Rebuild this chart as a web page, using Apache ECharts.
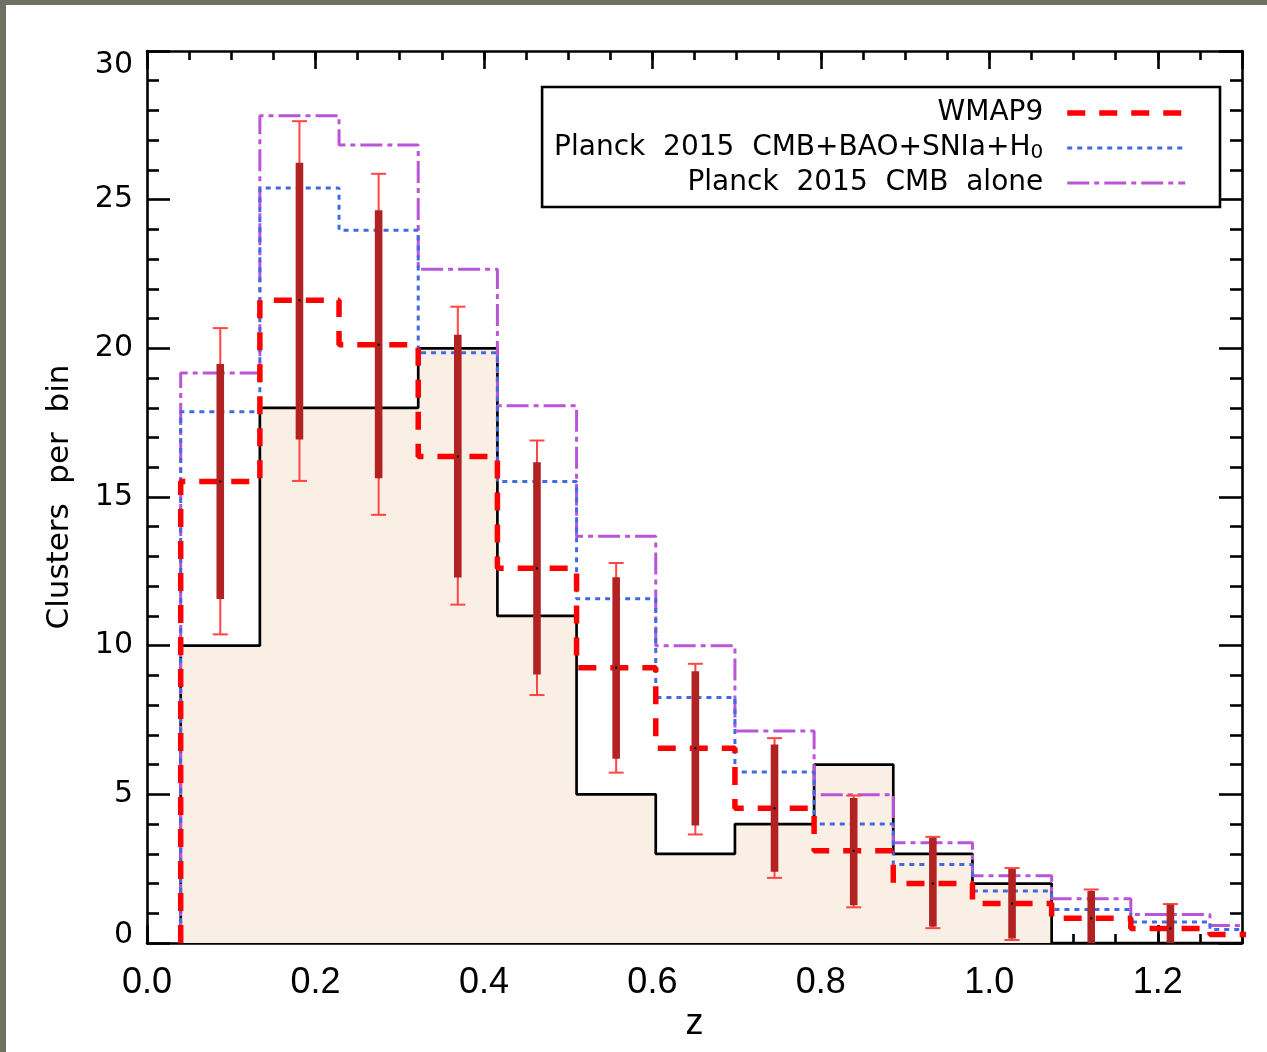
<!DOCTYPE html>
<html>
<head>
<meta charset="utf-8">
<title>Clusters per redshift bin</title>
<script src="https://cdn.jsdelivr.net/npm/echarts@6/dist/echarts.min.js"></script>
<style>
  html, body { margin: 0; padding: 0; background: #707163; }
  #frame { position: absolute; left: 0; top: 0; width: 1267px; height: 1052px; background: #707163; }
  #chart { position: absolute; left: 6px; top: 5px; width: 1261px; height: 1047px; background: #ffffff; }
</style>
</head>
<body>
<div id="frame"><div id="chart"></div></div>
<script>
// Redshift bin edges (last bin runs past the plotted range)
const binEdges = [0.040, 0.134, 0.228, 0.322, 0.416, 0.510, 0.604, 0.698, 0.792, 0.886, 0.980, 1.074, 1.168, 1.262, 1.356];

// Observed cluster counts per bin
const observed = [10, 18, 18, 20, 11, 5, 3, 4, 6, 3, 2, 0, 0, 0];

// Predicted counts per bin for each cosmology
const wmap9     = [15.52, 21.62, 20.12, 16.36, 12.60, 9.26, 6.55, 4.53, 3.10, 2.00, 1.33, 0.83, 0.49, 0.29];
const planckAll = [17.87, 25.39, 23.97, 19.85, 15.52, 11.58, 8.26, 5.75, 4.00, 2.64, 1.75, 1.13, 0.71, 0.45];
const planckCMB = [19.17, 27.82, 26.84, 22.66, 18.07, 13.68, 10.00, 7.13, 4.99, 3.37, 2.26, 1.49, 0.96, 0.59];

// Uncertainty on the WMAP9 prediction: Poisson range (thick) and total range (thin)
const poissonLow  = [11.57, 16.93, 15.63, 12.29, 9.03, 6.20, 3.95, 2.40, 1.27, 0.55, 0.15, -0.08, -0.21];
const poissonHigh = [19.47, 26.24, 24.64, 20.46, 16.17, 12.30, 9.14, 6.68, 4.88, 3.54, 2.49, 1.75, 1.29];
const totalLow    = [10.38, 15.54, 14.40, 11.38, 8.34, 5.73, 3.65, 2.19, 1.20, 0.50, 0.10, -0.15, -0.30];
const totalHigh   = [20.68, 27.64, 25.87, 21.40, 16.90, 12.78, 9.39, 6.89, 4.96, 3.57, 2.52, 1.80, 1.31];

// Axis tick labels
const xTickLabels = ['0.0', '0.2', '0.4', '0.6', '0.8', '1.0', '1.2'];
const yTickLabels = ['0', '5', '10', '15', '20', '25', '30'];

const seriesNames = ['WMAP9', 'Planck 2015 CMB+BAO+SNIa+H0', 'Planck 2015 CMB alone'];

// Histogram outline: rise from zero at the first edge, then one step per bin
function stepData(vals) {
  const pts = [[binEdges[0], 0]];
  vals.forEach(function (v, i) { pts.push([binEdges[i], v]); });
  pts.push([binEdges[vals.length], vals[vals.length - 1]]);
  return pts;
}

const errorData = poissonLow.map(function (_, i) {
  const centre = (binEdges[i] + binEdges[i + 1]) / 2;
  return [centre, wmap9[i], poissonLow[i], poissonHigh[i], totalLow[i], totalHigh[i]];
});

const black = '#000000';
const axisW = 2.6;
const fontY = 'DejaVu Sans';
const fontX = 'Liberation Sans';

function xAxisDef(position, interval, tickLen, withLine, withLabel) {
  return {
    type: 'value', position: position, min: 0, max: 1.3, interval: interval,
    axisLine: { show: withLine, onZero: false, lineStyle: { color: black, width: axisW } },
    axisTick: { show: true, inside: true, length: tickLen, lineStyle: { color: black, width: axisW } },
    axisLabel: withLabel ? {
      show: true, showMaxLabel: false, margin: 22,
      fontFamily: fontX, fontSize: 36, lineHeight: 36, color: black,
      formatter: function (v) {
        const idx = Math.round(v / 0.2);
        return (Math.abs(idx * 0.2 - v) < 1e-6 && xTickLabels[idx] !== undefined) ? xTickLabels[idx] : '';
      }
    } : { show: false },
    splitLine: { show: false },
    name: withLabel ? 'z' : '',
    nameLocation: 'middle', nameGap: 60,
    nameTextStyle: { fontFamily: fontX, fontSize: 36, lineHeight: 36, color: black }
  };
}

function yAxisDef(position, withLabel) {
  return {
    type: 'value', position: position, min: 0, max: 30, interval: 5,
    axisLine: { show: true, onZero: false, lineStyle: { color: black, width: axisW } },
    axisTick: { show: true, inside: true, length: 23, lineStyle: { color: black, width: axisW } },
    minorTick: { show: true, splitNumber: 5, length: 12, lineStyle: { color: black, width: axisW } },
    splitLine: { show: false },
    minorSplitLine: { show: false },
    axisLabel: withLabel ? {
      show: true, margin: 14, color: black, fontFamily: fontY, fontSize: 30,
      formatter: function (v) {
        const txt = yTickLabels[Math.round(v / 5)];
        if (v === 30) return '{t|' + txt + '}';
        if (v === 0) return '{b|' + txt + '}';
        return '{n|' + txt + '}';
      },
      rich: {
        n: { fontFamily: fontY, fontSize: 30, color: black },
        t: { fontFamily: fontY, fontSize: 30, color: black, padding: [28, 0, 0, 0] },
        b: { fontFamily: fontY, fontSize: 30, color: black, padding: [0, 0, 16, 0] }
      }
    } : { show: false },
    name: withLabel ? 'Clusters  per  bin' : '',
    nameLocation: 'middle', nameGap: 72,
    nameTextStyle: { fontFamily: fontY, fontSize: 31, color: black }
  };
}

const chart = echarts.init(document.getElementById('chart'), null, { renderer: 'canvas' });

chart.setOption({
  animation: false,
  backgroundColor: '#ffffff',
  grid: { left: 141, right: 25, top: 46, bottom: 109, outerBoundsMode: 'none', containLabel: false },
  xAxis: [
    xAxisDef('bottom', 0.2, 18, true, true),
    xAxisDef('bottom', 0.05, 9, false, false),
    xAxisDef('top', 0.2, 18, true, false),
    xAxisDef('top', 0.05, 9, false, false)
  ],
  yAxis: [
    yAxisDef('left', true),
    yAxisDef('right', false)
  ],
  legend: {
    data: seriesNames,
    orient: 'vertical',
    align: 'right',
    right: 47,
    top: 82,
    itemWidth: 118,
    itemHeight: 20,
    itemGap: 5,
    padding: [11, 32, 9, 12],
    borderColor: black,
    borderWidth: 2.6,
    borderRadius: 0,
    backgroundColor: '#ffffff',
    selectedMode: false,
    lineStyle: { width: 'inherit' },
    itemStyle: { opacity: 0, borderWidth: 0 },
    textStyle: {
      fontFamily: fontY, fontSize: 28, lineHeight: 30, color: black,
      padding: [0, 19, 0, 0],
      rich: {
        sub: { fontFamily: fontY, fontSize: 20, lineHeight: 16, padding: [10, 0, 0, 0], color: black }
      }
    },
    formatter: function (name) {
      if (name === seriesNames[1]) return 'Planck  2015  CMB+BAO+SNIa+H{sub|0}';
      return name.split(' ').join('  ');
    }
  },
  series: [
    {
      name: 'Observed',
      type: 'line', step: 'end', data: stepData(observed),
      symbol: 'none', showSymbol: false, silent: true, z: 1,
      color: black,
      lineStyle: { color: black, width: 2.7 },
      areaStyle: { color: '#faefe4', opacity: 1, origin: 'start' }
    },
    {
      name: seriesNames[2],
      type: 'line', step: 'end', data: stepData(planckCMB),
      symbol: 'none', showSymbol: false, silent: true, z: 2,
      color: '#bb55d8',
      lineStyle: { color: '#bb55d8', width: 3, type: [22, 5, 5, 5] }
    },
    {
      name: seriesNames[1],
      type: 'line', step: 'end', data: stepData(planckAll),
      symbol: 'none', showSymbol: false, silent: true, z: 3,
      color: '#4169e1',
      lineStyle: { color: '#4169e1', width: 3, type: [5, 5] }
    },
    {
      name: seriesNames[0],
      type: 'line', step: 'end', data: stepData(wmap9),
      symbol: 'none', showSymbol: false, silent: true, z: 4,
      color: '#ff0000',
      lineStyle: { color: '#ff0000', width: 5.5, type: [18, 14] }
    },
    {
      name: 'Uncertainty',
      type: 'custom', clip: true, silent: true, z: 5,
      data: errorData,
      renderItem: function (params, api) {
        const x = api.value(0);
        const c = api.coord([x, api.value(1)]);
        const pl = api.coord([x, api.value(2)]);
        const ph = api.coord([x, api.value(3)]);
        const tl = api.coord([x, api.value(4)]);
        const th = api.coord([x, api.value(5)]);
        const cap = 7.5;
        const thin = { stroke: '#ff4545', lineWidth: 2 };
        return {
          type: 'group',
          children: [
            { type: 'line', shape: { x1: c[0], y1: tl[1], x2: c[0], y2: th[1] }, style: thin },
            { type: 'line', shape: { x1: c[0] - cap, y1: th[1], x2: c[0] + cap, y2: th[1] }, style: thin },
            { type: 'line', shape: { x1: c[0] - cap, y1: tl[1], x2: c[0] + cap, y2: tl[1] }, style: thin },
            { type: 'rect', shape: { x: c[0] - 3.8, y: ph[1], width: 7.6, height: pl[1] - ph[1] }, style: { fill: '#b22222' } },
            { type: 'rect', shape: { x: c[0] - 1, y: c[1] - 1, width: 2, height: 2 }, style: { fill: black } }
          ]
        };
      }
    }
  ]
});
</script>
</body>
</html>
